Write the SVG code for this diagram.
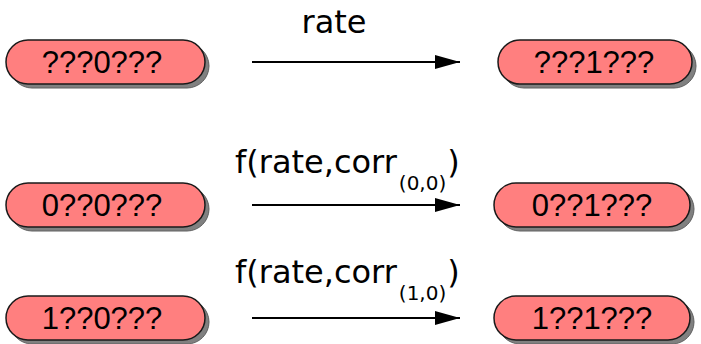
<svg xmlns="http://www.w3.org/2000/svg" width="701" height="344" viewBox="0 0 701 344">
<defs>
<style>
.shadow{fill:#808080;stroke:#606060;stroke-width:1}
.box{fill:#ff7f7f;stroke:#1a1a1a;stroke-width:1.5}
.nt{font-family:"Liberation Sans",Arial,sans-serif;font-size:31px;fill:#000;text-anchor:middle}
.lbl{font-family:"DejaVu Sans",sans-serif;font-size:32px;fill:#000}
.sub{font-family:"DejaVu Sans",sans-serif;font-size:20px;fill:#000}
.edge{stroke:#000;stroke-width:2;fill:none}
</style>
<marker id="ah" markerWidth="25" markerHeight="14" refX="25" refY="7" orient="auto" markerUnits="userSpaceOnUse">
<path d="M0,0 L25,7 L0,14 Z" fill="#000"/>
</marker>
</defs>
<rect width="701" height="344" fill="#fff"/>
<g id="n1">
<rect class="shadow" x="10" y="44" width="199" height="44" rx="22"/>
<rect class="box" x="6" y="40" width="199" height="44" rx="22"/>
<text class="nt" x="102" y="73">???0???</text>
</g>
<g id="n2">
<rect class="shadow" x="502" y="44" width="194" height="44" rx="22"/>
<rect class="box" x="498" y="40" width="194" height="44" rx="22"/>
<text class="nt" x="594" y="73">???1???</text>
</g>
<g id="n3">
<rect class="shadow" x="10" y="187" width="199" height="44" rx="22"/>
<rect class="box" x="6" y="183" width="199" height="44" rx="22"/>
<text class="nt" x="102" y="216">0??0???</text>
</g>
<g id="n4">
<rect class="shadow" x="498" y="187" width="196" height="44" rx="22"/>
<rect class="box" x="494" y="183" width="196" height="44" rx="22"/>
<text class="nt" x="592" y="216">0??1???</text>
</g>
<g id="n5">
<rect class="shadow" x="10" y="300" width="199" height="44" rx="22"/>
<rect class="box" x="6" y="296" width="199" height="44" rx="22"/>
<text class="nt" x="102" y="329">1??0???</text>
</g>
<g id="n6">
<rect class="shadow" x="498" y="300" width="196" height="44" rx="22"/>
<rect class="box" x="494" y="296" width="196" height="44" rx="22"/>
<text class="nt" x="592" y="329">1??1???</text>
</g>
<g id="edges">
<line class="edge" x1="252" y1="62" x2="460" y2="62" marker-end="url(#ah)"/>
<line class="edge" x1="252" y1="205" x2="460" y2="205" marker-end="url(#ah)"/>
<line class="edge" x1="252" y1="318" x2="460" y2="318" marker-end="url(#ah)"/>
<text class="lbl" x="334" y="33" text-anchor="middle">rate</text>
<text class="lbl" x="235" y="173">f(rate,corr<tspan class="sub" dx="2" dy="17">(0,0)</tspan><tspan dx="1" dy="-17">)</tspan></text>
<text class="lbl" x="235" y="283">f(rate,corr<tspan class="sub" dx="2" dy="17">(1,0)</tspan><tspan dx="1" dy="-17">)</tspan></text>
</g>
</svg>
